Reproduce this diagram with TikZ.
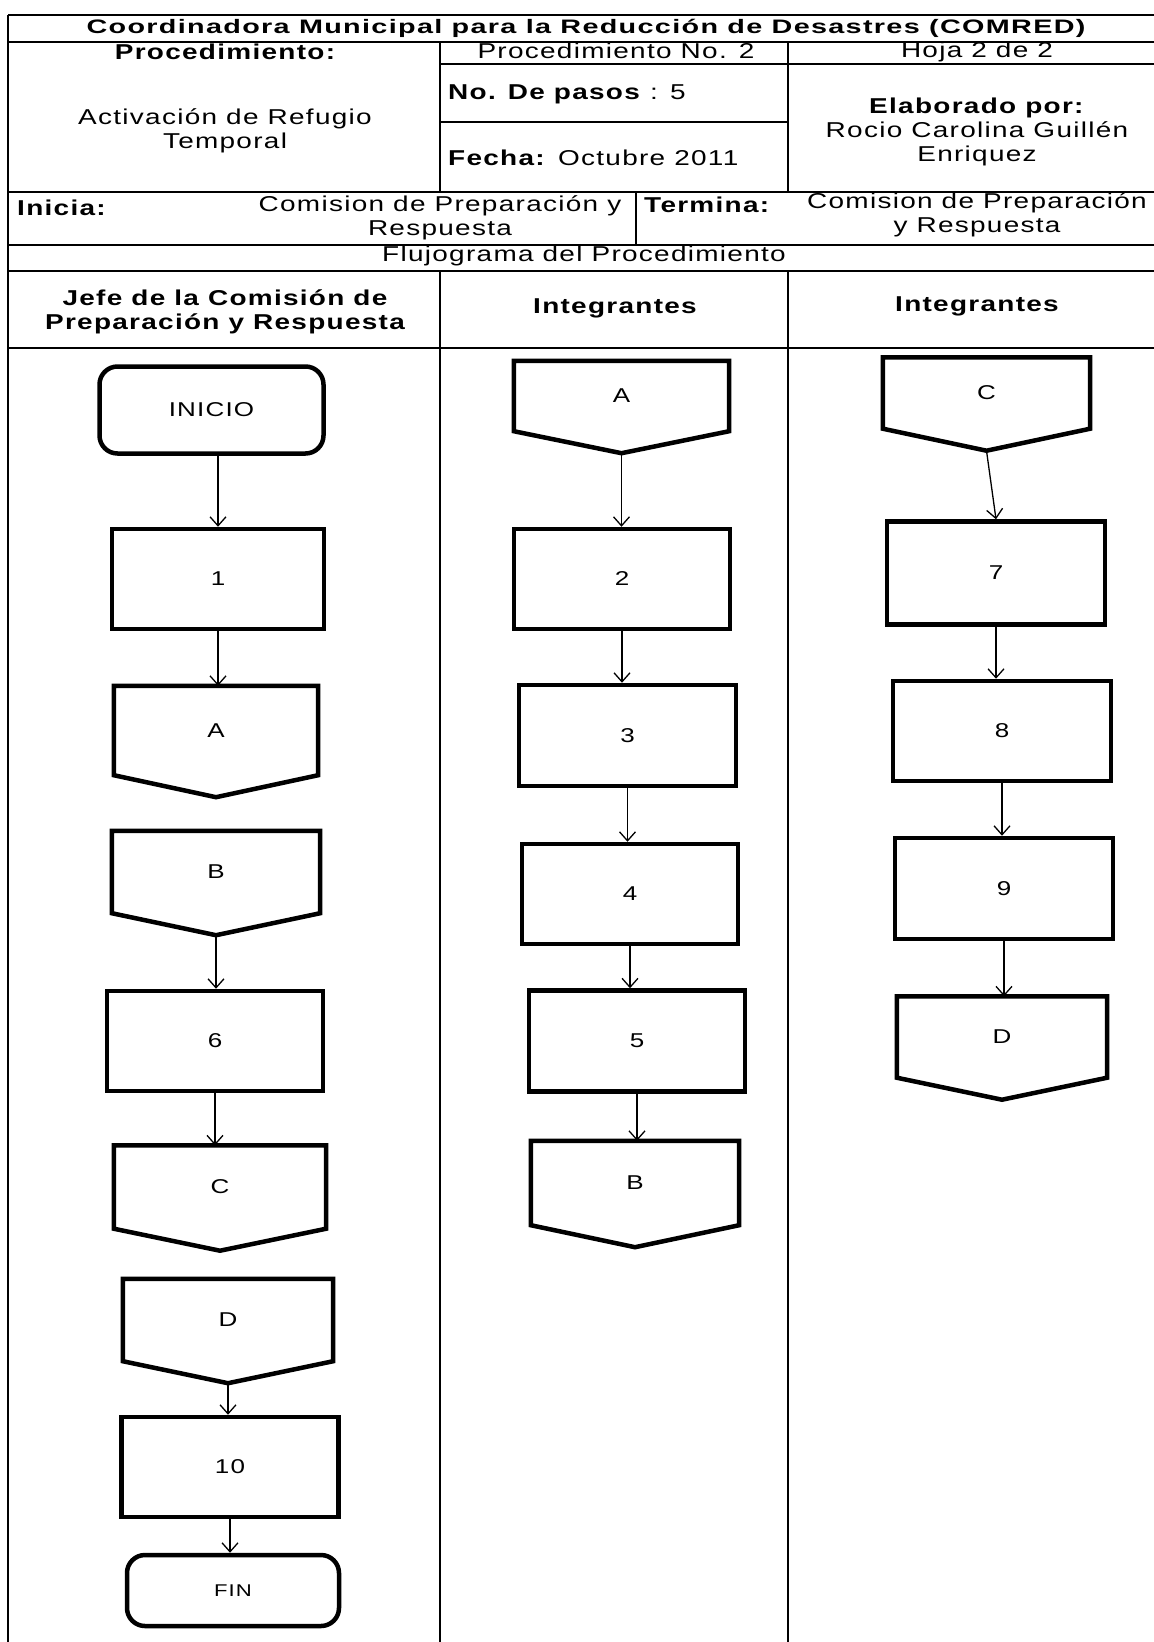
\documentclass[tikz,border=0pt]{standalone}
\usepackage{fontspec}
\setmainfont{Liberation Sans}[FakeStretch=1.3, LetterSpace=6]
\usetikzlibrary{arrows.meta,calc}
\newcommand\hdrfont{\fontsize{21.5}{24}\selectfont}
\newcommand\ttlfont{\fontsize{19.5}{22}\selectfont\bfseries}
\newcommand\lblfont{\fontsize{20}{22}\selectfont}
\tikzset{
  tbl/.style={line width=1.8pt},
  procbox/.style={draw, line width=4.5pt, rectangle, inner sep=0pt, font=\lblfont},
  termbox/.style={procbox, rounded corners=18pt},
  offp/.style={rectangle, inner sep=0pt, font=\lblfont},
  offline/.style={line width=4.5pt, line join=miter},
  arr/.style={line width=1.3pt, -{Straight Barb[length=9pt,width=16pt]}},
  txt/.style={inner sep=0pt, font=\hdrfont, align=center},
}
\begin{document}
\begin{tikzpicture}[x=1pt,y=-1pt]
\fill[white] (0,0) rectangle (1154,1642);
\useasboundingbox (0,0) rectangle (1154,1642);

% ---------- table ----------
\draw[tbl] (8,15) -- (1154,15);
\draw[tbl] (8,42) -- (1154,42);
\draw[tbl] (440,64) -- (1154,64);
\draw[tbl] (440,122) -- (788,122);
\draw[tbl] (8,192) -- (1154,192);
\draw[tbl] (8,245) -- (1154,245);
\draw[tbl] (8,271) -- (1154,271);
\draw[tbl] (8,348) -- (1154,348);
\draw[tbl] (8,15) -- (8,1642);
\draw[tbl] (440,42) -- (440,192);
\draw[tbl] (788,42) -- (788,192);
\draw[tbl] (636,192) -- (636,245);
\draw[tbl] (440,271) -- (440,1642);
\draw[tbl] (788,271) -- (788,1642);

\node[txt, font=\ttlfont] (title) at (586,28.5) {\scalebox{1.135}[1]{Coordinadora Municipal para la Reducción de Desastres (COMRED)}};
\node[txt, font=\hdrfont\bfseries] (proc) at (225,52) {Procedimiento:};
\node[txt] (procno) at (616,51) {Procedimiento No. 2};
\node[txt] (hoja) at (977,52) {Hoja 2 de 2};
\node[txt, anchor=west] (pasos) at (448,94) {\textbf{No. De pasos} : 5};
\node[txt, anchor=west] (fecha) at (448,158) {\textbf{Fecha:} Octubre 2011};
\node[txt] (elab) at (977,132) {\textbf{Elaborado por:}\\Rocio Carolina Guillén\\Enriquez};
\node[txt] (nombre) at (225,131) {Activación de Refugio\\Temporal};
\node[txt, anchor=west, font=\hdrfont\bfseries] (inicia) at (17,208) {Inicia:};
\node[txt] (iniciaq) at (440,218) {Comision de Preparación y\\Respuesta};
\node[txt, anchor=west, font=\hdrfont\bfseries] (termina) at (644,205) {Termina:};
\node[txt] (terminaq) at (977,215) {Comision de Preparación\\y Respuesta};
\node[txt] (fluj) at (584,256) {Flujograma del Procedimiento};
\node[txt, font=\hdrfont\bfseries] (col1) at (225,312) {Jefe de la Comisión de\\Preparación y Respuesta};
\node[txt, font=\hdrfont\bfseries] (col2) at (615,308) {Integrantes};
\node[txt, font=\hdrfont\bfseries] (col3) at (977,306) {Integrantes};

% ---------- column 1 ----------
\node[termbox, minimum width=224pt, minimum height=87pt] (inicio) at (211.5,410) {INICIO};
\node[procbox, minimum width=212pt, minimum height=100pt] (s1) at (218,579) {1};
\node[offp, minimum width=204pt, minimum height=89pt] (a1) at (216,730.5) {A};
\node[offp, minimum width=208pt, minimum height=82pt] (b1) at (216,872) {B};
\node[procbox, minimum width=216pt, minimum height=100pt] (s6) at (215,1041) {6};
\node[offp, minimum width=212pt, minimum height=83pt] (c1) at (220,1187) {C};
\node[offp, minimum width=210pt, minimum height=82pt] (d1) at (228,1320) {D};
\node[procbox, minimum width=217pt, minimum height=100pt] (s10) at (230,1467) {10};
\node[termbox, minimum width=212pt, minimum height=71pt, font=\fontsize{17}{20}\selectfont] (fin) at (233,1590.5) {FIN};

% ---------- column 2 ----------
\node[offp, minimum width=215pt, minimum height=70pt] (a2) at (621.5,396) {A};
\node[procbox, minimum width=216pt, minimum height=100pt] (s2) at (622,579) {2};
\node[procbox, minimum width=217pt, minimum height=101pt] (s3) at (627.5,735.5) {3};
\node[procbox, minimum width=216pt, minimum height=100pt] (s4) at (630,894) {4};
\node[procbox, minimum width=216pt, minimum height=101pt] (s5) at (637,1041) {5};
\node[offp, minimum width=208pt, minimum height=84pt] (b2) at (635,1183) {B};

% ---------- column 3 ----------
\node[offp, minimum width=207pt, minimum height=71pt] (c3) at (986.5,393) {C};
\node[procbox, minimum width=218pt, minimum height=103pt] (s7) at (996,573) {7};
\node[procbox, minimum width=218pt, minimum height=100pt] (s8) at (1002,731) {8};
\node[procbox, minimum width=218pt, minimum height=101pt] (s9) at (1004,888.5) {9};
\node[offp, minimum width=210pt, minimum height=81pt] (d3) at (1002,1037) {D};

% off-page connector outlines and their tips
\foreach \n in {a1,b1,c1,d1,a2,b2,c3,d3}{
  \coordinate (\n tip) at ([yshift=-22pt]\n.south);
  \draw[offline] (\n.north west) -- (\n.north east) -- (\n.south east)
     -- (\n tip) -- (\n.south west) -- cycle;
}

% ---------- connectors ----------
\draw[arr] (inicio.south -| s1.north) -- (s1.north);
\draw[arr] (s1.south) -- (s1.south |- a1.north);
\draw[arr] (b1tip) -- (b1tip |- s6.north);
\draw[arr] (s6.south) -- (s6.south |- c1.north);
\draw[arr] (d1tip) -- (d1tip |- s10.north);
\draw[arr] (s10.south) -- (s10.south |- fin.north);

\draw[arr] (a2tip) -- (a2tip |- s2.north);
\draw[arr] (s2.south) -- (s2.south |- s3.north);
\draw[arr] (s3.south) -- (s3.south |- s4.north);
\draw[arr] (s4.south) -- (s4.south |- s5.north);
\draw[arr] (s5.south) -- (s5.south |- b2.north);

\draw[arr] (c3tip) -- (s7.north);
\draw[arr] (s7.south) -- (s7.south |- s8.north);
\draw[arr] (s8.south) -- (s8.south |- s9.north);
\draw[arr] (s9.south) -- (s9.south |- d3.north);
\end{tikzpicture}
\end{document}
